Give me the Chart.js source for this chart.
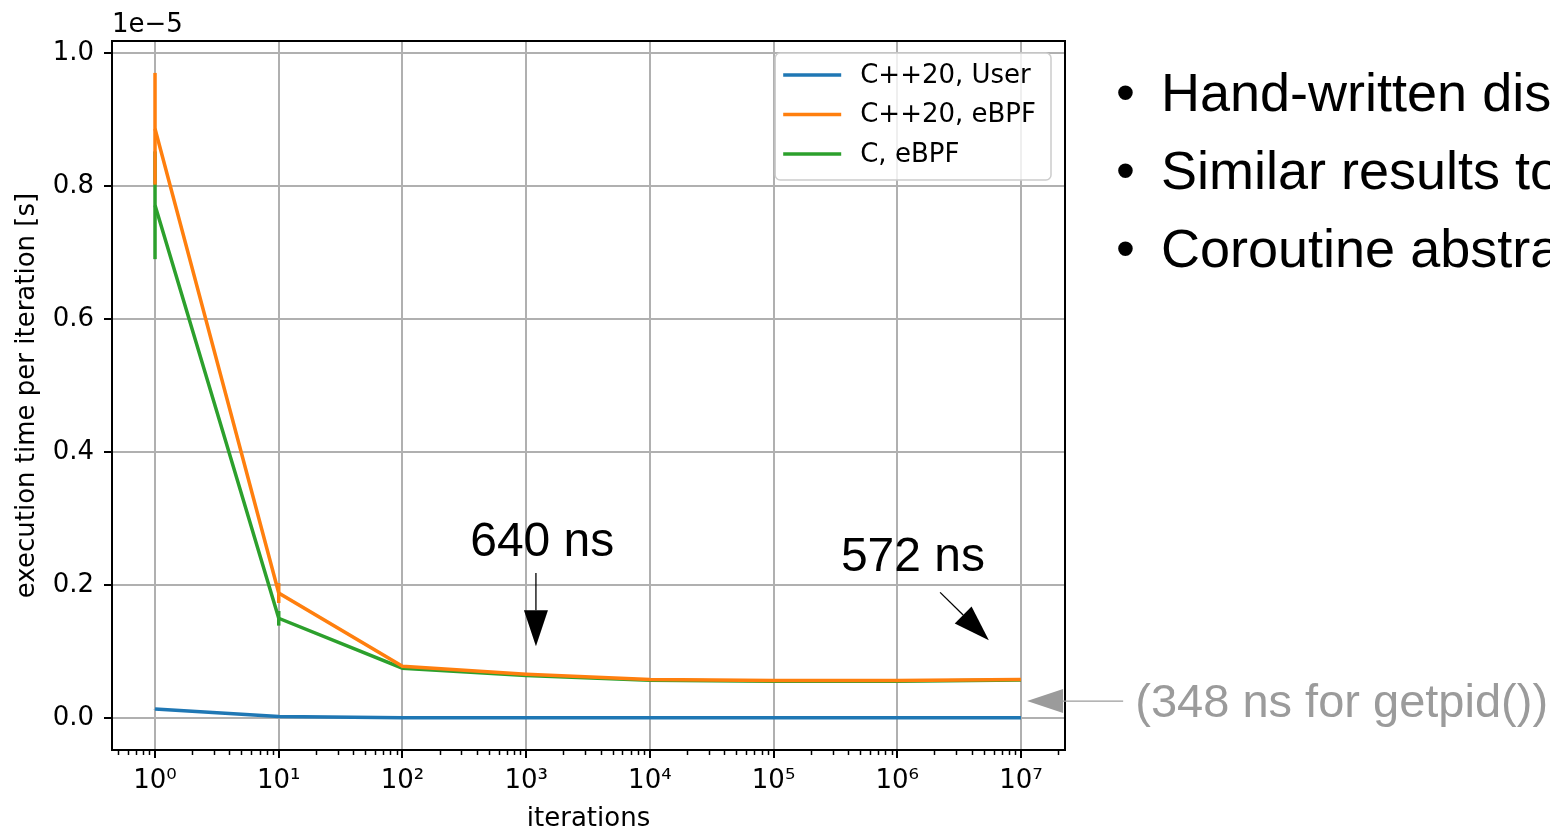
<!DOCTYPE html>
<html>
<head>
<meta charset="utf-8">
<title>execution time per iteration</title>
<script src="https://cdn.jsdelivr.net/npm/chart.js@4.4.0/dist/chart.umd.min.js"></script>
<style>
    html, body { margin: 0; padding: 0; background: #fff; overflow: hidden; }
    #wrap { position: relative; width: 1550px; height: 829px; overflow: hidden; }
    #chart { position: absolute; left: 0; top: 0; }
    .bullets { position: absolute; left: 0; top: 53px; font-family: "Liberation Sans", Arial, sans-serif;
               font-size: 54px; line-height: 78px; color: #000; white-space: nowrap; }
    .bullets div { position: relative; height: 78px; }
    .bullets .dot { position: absolute; left: 1116px; }
    .bullets .txt { position: absolute; left: 1161px; }
</style>
</head>
<body>
<div id="wrap">
    <canvas id="chart" width="1550" height="829"></canvas>
    <div class="bullets">
        <div><span class="dot">•</span><span class="txt">Hand-written dis</span></div>
        <div><span class="dot">•</span><span class="txt">Similar results to</span></div>
        <div><span class="dot">•</span><span class="txt">Coroutine abstra</span></div>
    </div>
</div>
<script>
// x values (iterations) and mean time per iteration in seconds
const iterations = [1, 10, 100, 1e3, 1e4, 1e5, 1e6, 1e7];
const cppUser = [1.35e-7, 2.5e-8, 6e-9, 4e-9, 4e-9, 4e-9, 4e-9, 4e-9];
const cppEbpf = [8.86e-6, 1.88e-6, 7.8e-7, 6.6e-7, 5.8e-7, 5.65e-7, 5.65e-7, 5.8e-7];
const cEbpf = [7.71e-6, 1.50e-6, 7.5e-7, 6.4e-7, 5.7e-7, 5.55e-7, 5.55e-7, 5.72e-7];

// standard deviation (error bars)
const cppUserErr = [2e-9, 1e-9, 0, 0, 0, 0, 0, 0];
const cppEbpfErr = [8.4e-7, 1.5e-7, 1e-8, 5e-9, 0, 0, 0, 0];
const cEbpfErr = [8.1e-7, 1.1e-7, 1e-8, 5e-9, 0, 0, 0, 0];

const seriesLabels = ['C++20, User', 'C++20, eBPF', 'C, eBPF'];
const seriesColors = ['#1f77b4', '#ff7f0e', '#2ca02c'];

// axis ticks
const xMajorTicks = [1, 10, 100, 1e3, 1e4, 1e5, 1e6, 1e7];
const yTicks = [0, 2e-6, 4e-6, 6e-6, 8e-6, 1e-5];
const sup = ['⁰', '¹', '²', '³', '⁴', '⁵', '⁶', '⁷', '⁸'];

// text notes placed in data coordinates
const notes = [
    { text: '640 ns', x: 1350, y: 2.44e-6, from: [1200, 2.18e-6], to: [1200, 1.08e-6], color: '#000', size: 48, align: 'center' },
    { text: '572 ns', x: 1.34e6, y: 2.21e-6, from: [2.22e6, 1.89e-6], to: [5.5e6, 1.17e-6], color: '#000', size: 48, align: 'center' },
    { text: '(348 ns for getpid())', x: 8.4e7, y: 2e-8, from: [6.7e7, 2.56e-7], to: [1.12e7, 2.56e-7], color: '#9b9b9b', size: 47, align: 'left' }
];

const tickFont = { family: 'DejaVu Sans', size: 26 };

function arrow(ctx, x1, y1, x2, y2, hl, hw, color) {
    const a = Math.atan2(y2 - y1, x2 - x1);
    const bx = x2 - hl * Math.cos(a), by = y2 - hl * Math.sin(a);
    ctx.strokeStyle = color;
    ctx.fillStyle = color;
    ctx.lineWidth = 1.3;
    ctx.beginPath();
    ctx.moveTo(x1, y1);
    ctx.lineTo(bx, by);
    ctx.stroke();
    ctx.beginPath();
    ctx.moveTo(x2, y2);
    ctx.lineTo(bx + hw / 2 * Math.sin(a), by - hw / 2 * Math.cos(a));
    ctx.lineTo(bx - hw / 2 * Math.sin(a), by + hw / 2 * Math.cos(a));
    ctx.closePath();
    ctx.fill();
}

// error bars, drawn right after each line so stacking order matches
const errorBars = {
    id: 'errorBars',
    afterDatasetDraw(chart, args) {
        const ds = chart.data.datasets[args.index];
        if (!ds.err) return;
        const ctx = chart.ctx, xs = chart.scales.x, ys = chart.scales.y;
        ctx.save();
        ctx.strokeStyle = ds.borderColor;
        ctx.lineWidth = 3.5;
        ds.data.forEach((p, i) => {
            const e = ds.err[i];
            if (!e) return;
            const px = xs.getPixelForValue(p.x);
            ctx.beginPath();
            ctx.moveTo(px, ys.getPixelForValue(p.y - e));
            ctx.lineTo(px, ys.getPixelForValue(p.y + e));
            ctx.stroke();
        });
        ctx.restore();
    }
};

// frame, minor ticks, offset text, legend and notes
const decorations = {
    id: 'decorations',
    afterDraw(chart) {
        const ctx = chart.ctx, a = chart.chartArea, xs = chart.scales.x, ys = chart.scales.y;
        ctx.save();

        // minor log ticks
        ctx.strokeStyle = '#000';
        ctx.lineWidth = 1.5;
        for (let k = -1; k <= 7; k++) {
            for (let m = 2; m <= 9; m++) {
                const v = m * Math.pow(10, k);
                if (v < xs.min || v > xs.max) continue;
                const px = Math.round(xs.getPixelForValue(v)) + 0.5;
                ctx.beginPath();
                ctx.moveTo(px, a.bottom);
                ctx.lineTo(px, a.bottom + 5);
                ctx.stroke();
            }
        }

        // frame
        ctx.lineWidth = 2;
        ctx.strokeRect(a.left, a.top, a.right - a.left, a.bottom - a.top);

        // offset text
        ctx.fillStyle = '#000';
        ctx.font = '26px "DejaVu Sans"';
        ctx.textAlign = 'left';
        ctx.textBaseline = 'alphabetic';
        ctx.fillText('1e\u22125', a.left, a.top - 9);

        // legend
        const rowH = 39.5, padL = 8, sample = 58, gap = 19, padR = 15;
        let maxW = 0;
        chart.data.datasets.forEach(d => { maxW = Math.max(maxW, ctx.measureText(d.label).width); });
        const w = padL + sample + gap + maxW + padR;
        const h = 127;
        const lx = a.right - 14 - w, ly = a.top + 12;
        ctx.beginPath();
        ctx.roundRect(lx, ly, w, h, 5);
        ctx.fillStyle = 'rgba(255,255,255,0.8)';
        ctx.fill();
        ctx.strokeStyle = '#cccccc';
        ctx.lineWidth = 1.5;
        ctx.stroke();
        ctx.textBaseline = 'middle';
        chart.data.datasets.forEach((d, i) => {
            const cy = ly + 22 + i * rowH;
            ctx.strokeStyle = d.borderColor;
            ctx.lineWidth = 3.5;
            ctx.beginPath();
            ctx.moveTo(lx + padL, cy);
            ctx.lineTo(lx + padL + sample, cy);
            ctx.stroke();
            ctx.fillStyle = '#000';
            ctx.fillText(d.label, lx + padL + sample + gap, cy + 1);
        });

        // notes with arrows
        notes.forEach(n => {
            arrow(ctx,
                xs.getPixelForValue(n.from[0]), ys.getPixelForValue(n.from[1]),
                xs.getPixelForValue(n.to[0]), ys.getPixelForValue(n.to[1]),
                36, 24, n.color);
            ctx.fillStyle = n.color;
            ctx.font = n.size + 'px "Liberation Sans", Arial, sans-serif';
            ctx.textAlign = n.align;
            ctx.textBaseline = 'alphabetic';
            ctx.fillText(n.text, xs.getPixelForValue(n.x), ys.getPixelForValue(n.y));
        });
        ctx.restore();
    }
};

const allSeries = [cppUser, cppEbpf, cEbpf];
const allErr = [cppUserErr, cppEbpfErr, cEbpfErr];

const datasets = allSeries.map((vals, i) => ({
    label: seriesLabels[i],
    data: iterations.map((x, j) => ({ x: x, y: vals[j] })),
    err: allErr[i],
    borderColor: seriesColors[i],
    backgroundColor: seriesColors[i],
    borderWidth: 3.5,
    pointRadius: 0,
    tension: 0,
    fill: false
}));

new Chart(document.getElementById('chart'), {
    type: 'line',
    data: { datasets: datasets },
    options: {
        responsive: false,
        animation: false,
        events: [],
        layout: { padding: { top: 41, right: 485, left: 0, bottom: 0 } },
        plugins: {
            legend: { display: false },
            tooltip: { enabled: false }
        },
        scales: {
            x: {
                type: 'logarithmic',
                min: 0.449,
                max: 2.27e7,
                afterBuildTicks: function(scale) {
                    scale.ticks = xMajorTicks.map(v => ({ value: v }));
                },
                afterFit: function(scale) { scale.height = 79; },
                ticks: {
                    font: tickFont,
                    color: '#000',
                    padding: 8,
                    maxRotation: 0,
                    autoSkip: false,
                    callback: function(value) {
                        return '10' + sup[Math.round(Math.log10(value))];
                    }
                },
                grid: { color: '#b0b0b0', lineWidth: 2, tickLength: 8, tickColor: '#000', tickWidth: 2 },
                border: { color: '#000', width: 2 },
                title: {
                    display: true,
                    text: 'iterations',
                    font: tickFont,
                    color: '#000',
                    padding: { top: 0, bottom: -6 }
                }
            },
            y: {
                type: 'linear',
                min: -0.048e-5,
                max: 1.018e-5,
                afterBuildTicks: function(scale) {
                    scale.ticks = yTicks.map(v => ({ value: v }));
                },
                afterFit: function(scale) { scale.width = 112; },
                ticks: {
                    font: tickFont,
                    color: '#000',
                    padding: 10,
                    callback: function(value) {
                        return (value * 1e5).toFixed(1);
                    }
                },
                grid: { color: '#b0b0b0', lineWidth: 2, tickLength: 8, tickColor: '#000', tickWidth: 2 },
                border: { color: '#000', width: 2 },
                title: {
                    display: true,
                    text: 'execution time per iteration [s]',
                    font: tickFont,
                    color: '#000',
                    padding: { top: 12, bottom: 0 }
                }
            }
        }
    },
    plugins: [errorBars, decorations]
});
</script>
</body>
</html>
